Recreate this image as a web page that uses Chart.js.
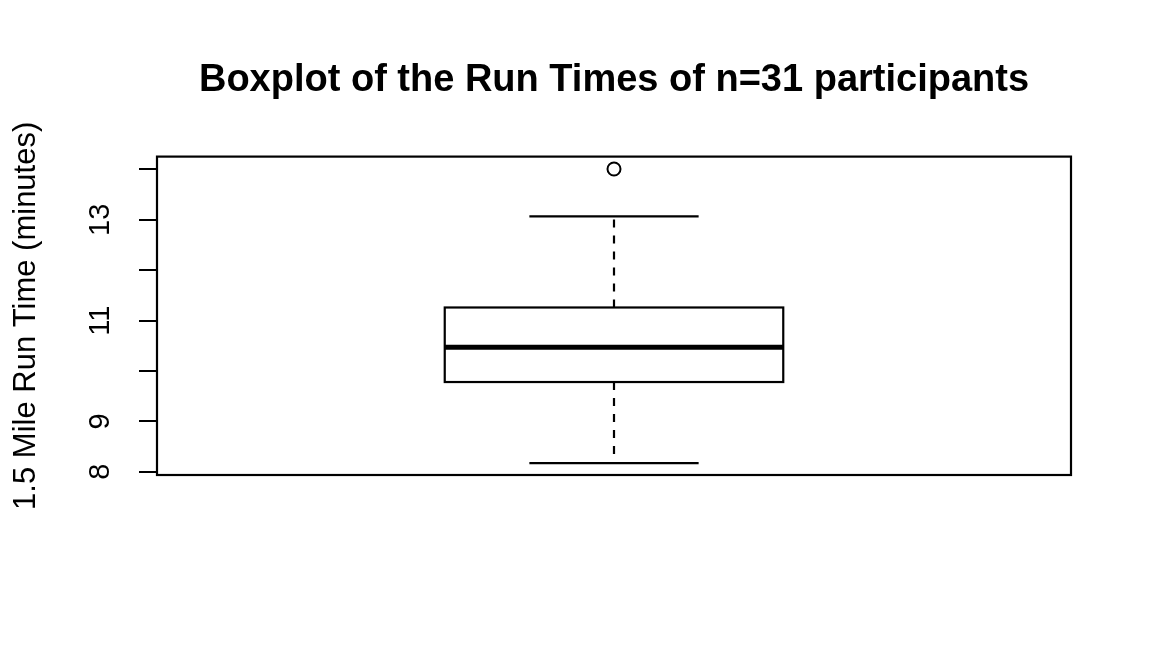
<!DOCTYPE html>
<html>
<head>
<meta charset="utf-8">
<script src="https://cdn.jsdelivr.net/npm/chart.js@4/dist/chart.umd.min.js"></script>
<style>
  html, body { margin: 0; padding: 0; background: #ffffff; }
  #wrap { width: 1152px; height: 672px; }
</style>
</head>
<body>
<div id="wrap"><canvas id="c" width="1152" height="672"></canvas></div>
<script>
// ---- data ----
const chartTitle = "Boxplot of the Run Times of n=31 participants";
const yAxisTitle = "1.5 Mile Run Time (minutes)";
const groupPosition = 1;
const boxStats = { lowerWhisker: 8.17, q1: 9.78, median: 10.47, q3: 11.26, upperWhisker: 13.07 };
const outliers = [14.01];
const yTicks = [8, 9, 10, 11, 12, 13, 14];
const yTickLabels = ["8", "9", "", "11", "", "13", ""];
const yRange = [7.934, 14.256];
const xRange = [0.46, 1.54];
const boxHalfWidth = 0.2;
const capHalfWidth = 0.1;

const FONT = "'Liberation Sans', Arial, sans-serif";

const boxPlugin = {
  id: 'rBox',
  afterDatasetsDraw(chart) {
    const ctx = chart.ctx;
    const xs = chart.scales.x, ys = chart.scales.y;
    const X = v => xs.getPixelForValue(v);
    const Y = v => ys.getPixelForValue(v);
    const s = boxStats;
    ctx.save();
    ctx.strokeStyle = '#000';
    ctx.lineCap = 'butt';
    // dashed whiskers
    ctx.lineWidth = 2.2;
    ctx.setLineDash([8, 8]);
    ctx.beginPath();
    ctx.moveTo(X(groupPosition), Y(s.q3)); ctx.lineTo(X(groupPosition), Y(s.upperWhisker));
    ctx.moveTo(X(groupPosition), Y(s.q1)); ctx.lineTo(X(groupPosition), Y(s.lowerWhisker));
    ctx.stroke();
    ctx.setLineDash([]);
    // caps
    ctx.beginPath();
    ctx.moveTo(X(groupPosition - capHalfWidth), Y(s.upperWhisker)); ctx.lineTo(X(groupPosition + capHalfWidth), Y(s.upperWhisker));
    ctx.moveTo(X(groupPosition - capHalfWidth), Y(s.lowerWhisker)); ctx.lineTo(X(groupPosition + capHalfWidth), Y(s.lowerWhisker));
    ctx.stroke();
    // box
    const bx0 = X(groupPosition - boxHalfWidth), bx1 = X(groupPosition + boxHalfWidth);
    ctx.fillStyle = '#fff';
    ctx.fillRect(bx0, Y(s.q3), bx1 - bx0, Y(s.q1) - Y(s.q3));
    ctx.strokeRect(bx0, Y(s.q3), bx1 - bx0, Y(s.q1) - Y(s.q3));
    // median
    ctx.lineWidth = 5;
    ctx.beginPath();
    ctx.moveTo(bx0, Y(s.median)); ctx.lineTo(bx1, Y(s.median));
    ctx.stroke();
    // plot frame
    const a = chart.chartArea;
    ctx.lineWidth = 2.2;
    ctx.strokeRect(a.left, a.top, a.right - a.left, a.bottom - a.top);
    ctx.restore();
  }
};

new Chart(document.getElementById('c'), {
  type: 'scatter',
  data: {
    datasets: [{
      label: 'outliers',
      data: outliers.map(v => ({ x: groupPosition, y: v })),
      pointStyle: 'circle',
      pointRadius: 6.5,
      pointBorderWidth: 2,
      pointBorderColor: '#000',
      pointBackgroundColor: 'rgba(255,255,255,0)',
      pointHoverRadius: 6.5
    }]
  },
  options: {
    responsive: false,
    animation: false,
    devicePixelRatio: 1,
    layout: { padding: { left: 0, right: 81, top: 0, bottom: 197 } },
    plugins: {
      legend: { display: false },
      tooltip: { enabled: false },
      title: {
        display: true,
        text: chartTitle,
        fullSize: false,
        color: '#000',
        font: { family: FONT, size: 38, weight: 'bold', lineHeight: 1.2 },
        padding: { top: 58, bottom: 53 }
      }
    },
    scales: {
      x: {
        type: 'linear',
        display: false,
        min: xRange[0],
        max: xRange[1]
      },
      y: {
        type: 'linear',
        position: 'left',
        min: yRange[0],
        max: yRange[1],
        afterBuildTicks: s => { s.ticks = yTicks.map(v => ({ value: v })); },
        afterFit: s => { s.width = 157; },
        border: { display: false },
        grid: {
          drawOnChartArea: false,
          drawTicks: true,
          tickLength: 18,
          color: '#000',
          lineWidth: 2
        },
        ticks: {
          autoSkip: false,
          minRotation: 90,
          maxRotation: 90,
          crossAlign: 'center',
          padding: 22,
          color: '#000',
          font: { family: FONT, size: 29 },
          callback: (v, i) => yTickLabels[i]
        },
        title: {
          display: true,
          text: yAxisTitle,
          color: '#000',
          font: { family: FONT, size: 31, lineHeight: 1.2 },
          padding: { top: 8, bottom: 0 }
        }
      }
    }
  },
  plugins: [boxPlugin]
});
</script>
</body>
</html>
